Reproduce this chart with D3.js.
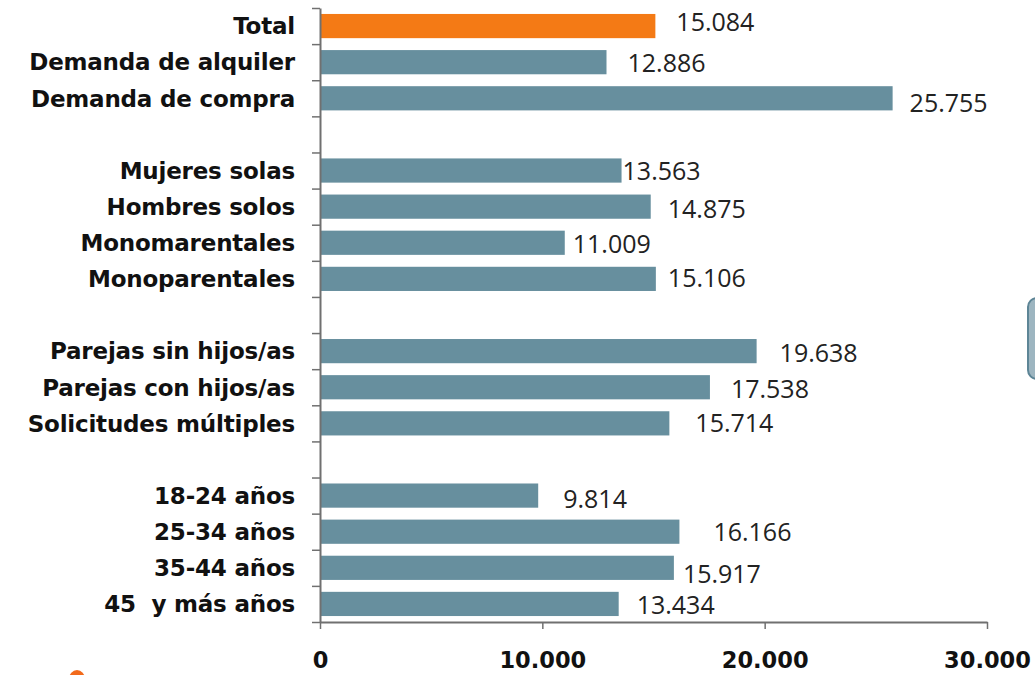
<!DOCTYPE html>
<html>
<head>
<meta charset="utf-8">
<script src="https://cdn.jsdelivr.net/npm/d3@7"></script>
<style>
  html, body { margin: 0; padding: 0; background: #fff; }
  svg { display: block; }
  text { white-space: pre; }
</style>
</head>
<body>
<svg id="chart" width="1035" height="675"></svg>
<script>
// Row labels, top to bottom; empty strings are spacer rows between groups
const categories = [
  "Total", "Demanda de alquiler", "Demanda de compra", "",
  "Mujeres solas", "Hombres solos", "Monomarentales", "Monoparentales", "",
  "Parejas sin hijos/as", "Parejas con hijos/as", "Solicitudes múltiples", "",
  "18-24 años", "25-34 años", "35-44 años", "45  y más años"
];
const values = [
  15084, 12886, 25755, null,
  13563, 14875, 11009, 15106, null,
  19638, 17538, 15714, null,
  9814, 16166, 15917, 13434
];
const xTicks = [0, 10000, 20000, 30000];

// Label nudges (px) from the bar end / bar centre
const labelDx = [21, 21, 17, 0, 1, 17, 8, 12, 0, 23, 21, 26, 0, 25, 34, 9, 18];
const labelDy = [-4, 1, 5, 0, 0, 2, 1.5, -1, 0, 1.5, 1.5, 0, 0, 3, 0, 6, 1];

const svg = d3.select("#chart");
const plotLeft = 320, plotRight = 987, plotTop = 8, plotBottom = 622;

const rows = categories.map((c, i) => ({ key: "r" + i, label: c, value: values[i], i }));

const x = d3.scaleLinear().domain([0, 30000]).range([plotLeft, plotRight]);
const y = d3.scaleBand().domain(rows.map(r => r.key)).range([plotTop, plotBottom])
  .paddingInner(0.33).paddingOuter(0.165);
const yEdge = d3.scaleLinear().domain([0, rows.length]).range([plotTop, plotBottom]);

const fmt = d3.formatLocale({ decimal: ",", thousands: ".", grouping: [3], currency: ["", "€"] }).format(",d");

// Bars
const data = rows.filter(r => r.value != null);
svg.append("g").selectAll("rect").data(data).join("rect")
  .attr("x", x(0))
  .attr("y", d => y(d.key))
  .attr("width", d => x(d.value) - x(0))
  .attr("height", y.bandwidth())
  .attr("fill", d => d.i === 0 ? "#f47a15" : "#678f9e");

// Value labels
svg.append("g").selectAll("text").data(data).join("text")
  .attr("x", d => x(d.value) + labelDx[d.i])
  .attr("y", d => y(d.key) + y.bandwidth() / 2 + labelDy[d.i])
  .attr("dy", "0.36em")
  .attr("font-family", "'Open Sans', sans-serif")
  .attr("font-size", 25)
  .attr("fill", "#222")
  .text(d => fmt(d.value));

// Left axis: ticks at row boundaries
const yAxis = svg.append("g").attr("transform", `translate(${plotLeft},0)`)
  .call(d3.axisLeft(yEdge).tickValues(d3.range(0, rows.length + 1)).tickSize(8).tickSizeOuter(0).tickFormat(""));
yAxis.select(".domain").attr("stroke", "#707070").attr("stroke-width", 2);
yAxis.selectAll(".tick line").attr("stroke", "#707070").attr("stroke-width", 1.5);

// Category labels
svg.append("g").selectAll("text").data(rows.filter(r => r.label)).join("text")
  .attr("x", 295)
  .attr("y", d => y(d.key) + y.bandwidth() / 2)
  .attr("dy", "0.36em")
  .attr("text-anchor", "end")
  .attr("font-family", "'DejaVu Sans', sans-serif")
  .attr("font-weight", "bold")
  .attr("font-size", 23)
  .attr("letter-spacing", -0.2)
  .attr("fill", "#111")
  .text(d => d.label);

// Bottom axis
const xAxis = svg.append("g").attr("transform", `translate(0,${plotBottom})`)
  .call(d3.axisBottom(x).tickValues(xTicks).tickSize(7).tickSizeOuter(0).tickPadding(23).tickFormat(fmt));
xAxis.select(".domain").attr("stroke", "#707070").attr("stroke-width", 2);
xAxis.selectAll(".tick line").attr("stroke", "#707070").attr("stroke-width", 1.5);
xAxis.selectAll(".tick text")
  .attr("font-family", "'DejaVu Sans', sans-serif")
  .attr("font-weight", "bold")
  .attr("font-size", 22.5)
  .attr("fill", "#111");

// Edge shapes: partial rounded box on the right and orange mark bottom-left
svg.append("rect").attr("x", 1028).attr("y", 298).attr("width", 40).attr("height", 81)
  .attr("rx", 9).attr("fill", "#9db5c0").attr("stroke", "#5d8596").attr("stroke-width", 2);
svg.append("ellipse").attr("cx", 77).attr("cy", 679).attr("rx", 8).attr("ry", 9).attr("fill", "#f26a1b");
</script>
</body>
</html>
